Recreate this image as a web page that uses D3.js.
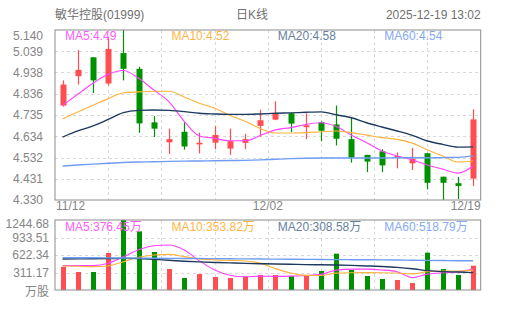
<!DOCTYPE html>
<html>
<head>
<meta charset="utf-8">
<script src="https://cdn.jsdelivr.net/npm/d3@7/dist/d3.min.js"></script>
<style>
body { margin: 0; background: #fff; }
text { font-family: "Liberation Sans", Arial, "Noto Sans CJK SC", sans-serif; }
</style>
</head>
<body>
<div id="chart"></div>
<script>
// daily candles, 11/12 -> 12/19
var dates = ["11/12","11/13","11/14","11/17","11/18","11/19","11/20","11/21","11/24","11/25","11/26","11/27","11/28","12/01",
             "12/02","12/03","12/04","12/05","12/08","12/09","12/10","12/11","12/12","12/15","12/16","12/17","12/18","12/19"];
var open  = [4.78,4.92,5.01,4.885,5.03,4.955,4.70,4.605,4.655,4.595,4.603,4.575,4.602,4.683,4.713,4.743,4.677,4.70,4.69,4.62,4.545,4.562,4.53,4.505,4.553,4.441,4.41,4.432];
var close = [4.88,4.95,4.90,5.05,4.955,4.695,4.67,4.62,4.585,4.603,4.64,4.61,4.62,4.71,4.74,4.694,4.686,4.66,4.622,4.532,4.513,4.495,4.54,4.527,4.412,4.412,4.397,4.714];
var high  = [4.90,5.045,5.01,5.10,5.14,4.965,4.73,4.67,4.70,4.651,4.683,4.67,4.645,4.76,4.80,4.745,4.743,4.705,4.78,4.722,4.545,4.572,4.556,4.578,4.553,4.441,4.44,4.762];
var low   = [4.775,4.88,4.84,4.875,4.90,4.65,4.63,4.55,4.57,4.552,4.572,4.545,4.572,4.632,4.71,4.654,4.62,4.61,4.59,4.508,4.463,4.463,4.481,4.473,4.381,4.33,4.335,4.397];

// moving averages
var ma5  = [4.781,4.834,4.886,4.929,4.947,4.910,4.854,4.798,4.705,4.635,4.624,4.612,4.612,4.637,4.664,4.675,4.690,4.698,4.680,4.639,4.603,4.564,4.540,4.521,4.497,4.477,4.458,4.492];
var ma10 = [4.717,4.749,4.781,4.813,4.841,4.845,4.848,4.848,4.821,4.791,4.767,4.733,4.705,4.671,4.649,4.649,4.651,4.655,4.659,4.651,4.639,4.627,4.619,4.601,4.568,4.540,4.511,4.516];
var ma20 = [4.630,4.659,4.683,4.714,4.746,4.757,4.759,4.757,4.751,4.743,4.740,4.738,4.738,4.740,4.743,4.745,4.748,4.750,4.736,4.722,4.698,4.678,4.659,4.638,4.611,4.595,4.582,4.583];
var ma60 = [4.492,4.497,4.501,4.505,4.509,4.511,4.512,4.514,4.515,4.516,4.517,4.518,4.519,4.521,4.524,4.527,4.529,4.530,4.530,4.530,4.530,4.530,4.531,4.531,4.531,4.532,4.533,4.540];

// volume in 万股
var volume = [409,320,320,658,1244.68,1043,676,373,213,284,231,213,237,267,267,249,267,338,646,356,249,196,178,124,664,373,267,432];
var vma5  = [433,433,433,474,590,717,788,799,710,518,355,263,236,246,243,247,257,278,353,371,371,357,325,221,282,307,321,376];
var vma10 = [427,421,415,427,504,581,622,634,593,554,536,526,517,478,380,301,260,257,300,307,309,307,301,287,327,339,339,354];
var vma20 = [551,553,555,558,563,560,545,528,512,500,490,482,474,468,462,457,452,448,444,437,428,418,403,379,344,326,320,309];
var vma60 = [575,574,573,571,569,567,565,563,561,559,557,555,553,551,549,547,545,543,541,539,537,535,533,530,527,524,521,519];

var priceTicks = [4.330,4.431,4.532,4.634,4.735,4.836,4.938,5.039,5.140];
var volTicks = [0,311.17,622.34,933.51,1244.68];
var xLabels = ["11/12","12/02","12/19"];

var maNames = ["MA5","MA10","MA20","MA60"];
var maColors = ["#ff40ff","#ffb13d","#1d3a5e","#6e9cf2"];
var maTextColors = ["#ff5cff","#ffb545","#667f9e","#86a9f3"];
var priceLegend = ["4.49","4.52","4.58","4.54"];
var volLegend = ["376.45万","353.82万","308.58万","518.79万"];

var upColor = "#ff4d52";
var downColor = "#009100";
var labelColor = "#858585";

let width = 505;
let height = 310;
let left = 55, right = 480.7;
let mainTop = 30, mainBottom = 200;
let volTop = 220, volBottom = 290;

var svg = d3.select("#chart")
    .append("svg")
    .attr("width", width)
    .attr("height", height);

var x = d3.scaleBand().domain(dates).range([left, right]).padding(0);
var cx = d => x(d) + x.bandwidth() / 2;
var y = d3.scaleLinear().domain([4.33, 5.14]).range([mainBottom, mainTop]);
var yv = d3.scaleLinear().domain([0, 1244.68]).range([volBottom, volTop]);

//header texts
svg.append("text").attr("x", left).attr("y", 19).attr("fill", "#707070").style("font-size", "12px").text("敏华控股(01999)");
svg.append("text").attr("x", 252).attr("y", 19).attr("fill", "#707070").style("font-size", "12px").attr("text-anchor", "middle").text("日K线");
svg.append("text").attr("x", right).attr("y", 19).attr("fill", "#707070").style("font-size", "12px").attr("text-anchor", "end").text("2025-12-19 13:02");

//grid for a panel, 8 columns and rows at the ticks
function drawGrid(yScale, ticks, top, bottom) {
    let g = svg.append("g").attr("stroke", "#d9d9d9").attr("stroke-dasharray", "3,3");
    ticks.slice(1, -1).forEach(t => {
        g.append("line").attr("x1", left).attr("x2", right)
            .attr("y1", Math.round(yScale(t)) + 0.5).attr("y2", Math.round(yScale(t)) + 0.5);
    });
    for (let k = 1; k < 8; k++) {
        let gx = Math.round(left + (right - left) * k / 8) + 0.5;
        g.append("line").attr("x1", gx).attr("x2", gx).attr("y1", top).attr("y2", bottom);
    }
}
drawGrid(y, priceTicks, mainTop, mainBottom);
drawGrid(yv, volTicks, volTop, volBottom);

//price axis labels
var yAxis = svg.append("g")
    .attr("transform", "translate(" + left + ",0)")
    .call(d3.axisLeft(y).tickValues(priceTicks).tickFormat(d3.format(".3f")).tickSize(0).tickPadding(12));
yAxis.select(".domain").remove();
yAxis.selectAll("text").attr("fill", labelColor).style("font-size", "12px");
yAxis.selectAll(".tick").filter(d => d == 5.14).select("text").attr("dy", "0.75em");

//volume axis labels, bottom one is the unit
var volAxis = svg.append("g")
    .attr("transform", "translate(" + left + ",0)")
    .call(d3.axisLeft(yv).tickValues(volTicks).tickFormat(d => d == 0 ? "万股" : d3.format(".2f")(d)).tickSize(0).tickPadding(6));
volAxis.select(".domain").remove();
volAxis.selectAll("text").attr("fill", labelColor).style("font-size", "12px");
volAxis.selectAll(".tick").filter(d => d == 1244.68).select("text").attr("dy", "0.6em");
volAxis.selectAll(".tick").filter(d => d == 0).select("text").attr("dy", "0.45em");

//x labels: first, middle, last
svg.append("text").attr("x", left + 1).attr("y", 210).attr("fill", labelColor).style("font-size", "12px").text(xLabels[0]);
svg.append("text").attr("x", (left + right) / 2).attr("y", 210).attr("fill", labelColor).style("font-size", "12px").attr("text-anchor", "middle").text(xLabels[1]);
svg.append("text").attr("x", right).attr("y", 210).attr("fill", labelColor).style("font-size", "12px").attr("text-anchor", "end").text(xLabels[2]);

//candles
var candles = svg.append("g").selectAll("g.candle")
    .data(dates)
    .enter().append("g")
    .attr("class", "candle");

candles.append("line")
    .attr("x1", (d, i) => Math.round(cx(d)) + 0.5)
    .attr("x2", (d, i) => Math.round(cx(d)) + 0.5)
    .attr("y1", (d, i) => y(high[i]))
    .attr("y2", (d, i) => y(low[i]))
    .attr("stroke", (d, i) => close[i] > open[i] ? upColor : downColor)
    .attr("stroke-width", 1.2);

candles.append("rect")
    .attr("x", d => Math.round(cx(d)) + 0.5 - 3)
    .attr("width", 6)
    .attr("y", (d, i) => y(Math.max(open[i], close[i])))
    .attr("height", (d, i) => Math.max(1.5, Math.abs(y(open[i]) - y(close[i]))))
    .attr("fill", (d, i) => close[i] > open[i] ? upColor : downColor);

//volume bars
svg.append("g").selectAll("rect.vol")
    .data(dates)
    .enter().append("rect")
    .attr("class", "vol")
    .attr("x", d => Math.round(cx(d)) + 0.5 - 2.5)
    .attr("width", 5)
    .attr("y", (d, i) => yv(volume[i]))
    .attr("height", (d, i) => volBottom - yv(volume[i]))
    .attr("fill", (d, i) => close[i] > open[i] ? upColor : downColor);

//moving average lines
function drawLines(series, yScale) {
    series.forEach((vals, k) => {
        let line = d3.line()
            .x((d, i) => cx(dates[i]))
            .y(d => yScale(d))
            .curve(d3.curveMonotoneX);
        svg.append("path")
            .datum(vals)
            .attr("d", line)
            .attr("fill", "none")
            .attr("stroke", maColors[k])
            .attr("stroke-width", k >= 2 ? 1.4 : 1.1);
    });
}
drawLines([ma5, ma10, ma20, ma60], y);
drawLines([vma5, vma10, vma20, vma60], yv);

//panel borders
svg.append("rect").attr("x", left).attr("y", mainTop).attr("width", right - left).attr("height", mainBottom - mainTop)
    .attr("fill", "none").attr("stroke", "#8c8c8c");
svg.append("rect").attr("x", left).attr("y", volTop).attr("width", right - left).attr("height", volBottom - volTop)
    .attr("fill", "none").attr("stroke", "#8c8c8c");

//legends
var colW = (right - left) / 4;
maNames.forEach((name, k) => {
    svg.append("text")
        .attr("x", left + 10 + colW * k)
        .attr("y", 40)
        .attr("fill", maTextColors[k])
        .style("font-size", "12px")
        .text(name + ":" + priceLegend[k]);
    svg.append("text")
        .attr("x", left + 10 + colW * k)
        .attr("y", 231)
        .attr("fill", maTextColors[k])
        .style("font-size", "12px")
        .text(name + ":" + volLegend[k]);
});
</script>
</body>
</html>
